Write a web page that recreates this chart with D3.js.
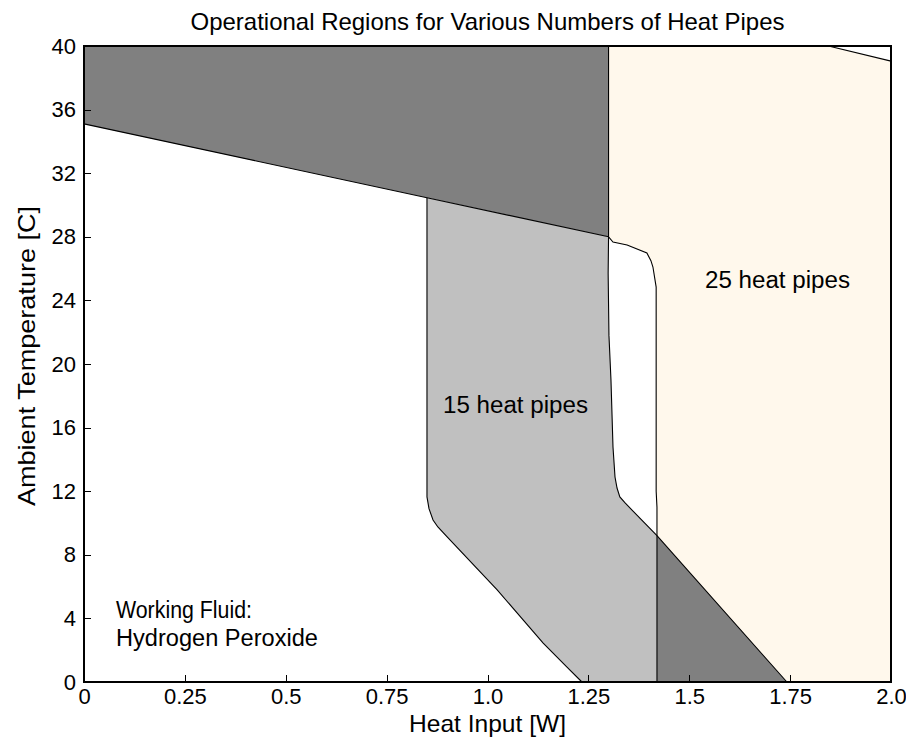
<!DOCTYPE html>
<html>
<head>
<meta charset="utf-8">
<script src="https://cdn.jsdelivr.net/npm/d3@7"></script>
<style>
  html, body { margin: 0; padding: 0; background: #fff; }
  svg { display: block; }
  text { font-family: "Liberation Sans", Arial, sans-serif; fill: #000; }
</style>
</head>
<body>
<svg id="chart" width="906" height="751"></svg>
<script>
// Axis ticks
const xTicks = [0, 0.25, 0.5, 0.75, 1.0, 1.25, 1.5, 1.75, 2.0];
const xTickLabels = ["0", "0.25", "0.5", "0.75", "1.0", "1.25", "1.5", "1.75", "2.0"];
const yTicks = [0, 4, 8, 12, 16, 20, 24, 28, 32, 36, 40];

// Boundaries as [heat input W, ambient temperature C]
// Upper temperature limit (shared line, drawn from Q = 0)
const upperLimit = [[0, 35.1], [0.85, 30.46], [1.3, 28.0]];
// 15 heat pipes: minimum heat input boundary
const minQ15 = [[0.85, 30.46], [0.85, 11.64], [0.855, 10.9], [0.865, 10.19], [0.877, 9.75],
                [0.9, 9.12], [1.024, 5.79], [1.138, 2.45], [1.197, 0.94], [1.234, 0]];
// 15 heat pipes: maximum heat input boundary
const maxQ15 = [[1.3, 28.0], [1.299, 25.7], [1.301, 21.8], [1.306, 19.0], [1.311, 14.78],
                [1.316, 12.89], [1.321, 12.2], [1.328, 11.64], [1.341, 11.26], [1.42, 9.2], [1.742, 0]];
// 25 heat pipes: minimum heat input boundary
const minQ25 = [[1.3, 40], [1.3, 28.0], [1.311, 27.67], [1.346, 27.48], [1.395, 26.98],
                [1.405, 26.5], [1.41, 26.1], [1.418, 24.84], [1.418, 12.0], [1.42, 11.0], [1.42, 0]];
// 25 heat pipes: upper temperature limit at high heat input
const upperLimit25 = [[1.845, 40], [2.0, 39.05]];

const svg = d3.select("#chart");
const margin = { left: 84, right: 15, top: 46, bottom: 69 };
const W = 906, H = 751;
const x = d3.scaleLinear().domain([0, 2]).range([margin.left, W - margin.right]);
const y = d3.scaleLinear().domain([0, 40]).range([H - margin.bottom, margin.top]);

const line = d3.line().x(d => x(d[0])).y(d => y(d[1]));
const poly = pts => line(pts) + "Z";

// Region polygons assembled from the boundary arrays
const xMin = x.domain()[0], xMax = x.domain()[1];
const yMin = y.domain()[0], yMax = y.domain()[1];

const region25 = minQ25.concat([[xMax, yMin]], upperLimit25.slice().reverse());
const regionHot = [[xMin, yMax], minQ25[0], minQ25[1], upperLimit[0]];
const region15 = upperLimit.filter(p => p[0] >= minQ15[0][0])
  .concat(maxQ15.slice(1), minQ15.slice().reverse());
const iCross = maxQ15.findIndex(p => p[0] >= minQ25[minQ25.length - 1][0]);
const overlap = maxQ15.slice(iCross).concat([[minQ25[minQ25.length - 1][0], yMin]]);

const plot = svg.append("g");
plot.append("path").attr("d", poly(region25)).attr("fill", "#fff8ec");
plot.append("path").attr("d", poly(regionHot)).attr("fill", "#808080");
plot.append("path").attr("d", poly(region15)).attr("fill", "#c0c0c0");
plot.append("path").attr("d", poly(overlap)).attr("fill", "#808080");

// Boundary lines
[upperLimit, minQ15, maxQ15, minQ25, upperLimit25].forEach(b => {
  plot.append("path").attr("d", line(b)).attr("fill", "none")
    .attr("stroke", "#000").attr("stroke-width", 1.1);
});

// Box
svg.append("rect")
  .attr("x", x(0)).attr("y", y(40))
  .attr("width", x(2) - x(0)).attr("height", y(0) - y(40))
  .attr("fill", "none").attr("stroke", "#000").attr("stroke-width", 1.2)
  .attr("shape-rendering", "crispEdges");

// Axes with inward ticks
const xAxis = d3.axisBottom(x).tickValues(xTicks)
  .tickFormat((d, i) => xTickLabels[i]).tickSizeInner(-7).tickSizeOuter(0).tickPadding(6);
const gx = svg.append("g").attr("transform", `translate(0,${y(0)})`).call(xAxis);
const yAxis = d3.axisLeft(y).tickValues(yTicks).tickFormat(d3.format("d"))
  .tickSizeInner(-7).tickSizeOuter(0).tickPadding(15);
const gy = svg.append("g").attr("transform", `translate(${x(0)},0)`).call(yAxis);
[gx, gy].forEach(g => {
  g.select(".domain").attr("stroke", "#000").attr("stroke-width", 1.2).attr("shape-rendering", "crispEdges");
  g.selectAll(".tick line").attr("stroke", "#000").attr("shape-rendering", "crispEdges");
  g.selectAll(".tick text").attr("font-family", "Liberation Sans, Arial, sans-serif")
    .attr("font-size", 22).attr("fill", "#000");
});
gy.selectAll(".tick text").attr("dx", 7);

// Titles and labels
svg.append("text").attr("x", (x(0) + x(2)) / 2).attr("y", 30)
  .attr("text-anchor", "middle").attr("font-size", 24)
  .attr("textLength", 594).attr("lengthAdjust", "spacingAndGlyphs")
  .text("Operational Regions for Various Numbers of Heat Pipes");
svg.append("text").attr("x", (x(0) + x(2)) / 2).attr("y", 732)
  .attr("text-anchor", "middle").attr("font-size", 24)
  .attr("textLength", 157).attr("lengthAdjust", "spacingAndGlyphs")
  .text("Heat Input [W]");
svg.append("text").attr("transform", `translate(35,${(y(0) + y(40)) / 2 - 8}) rotate(-90)`)
  .attr("text-anchor", "middle").attr("font-size", 24)
  .attr("textLength", 300).attr("lengthAdjust", "spacingAndGlyphs")
  .text("Ambient Temperature [C]");

// Region annotations
svg.append("text").attr("x", 705).attr("y", 288).attr("font-size", 23)
  .attr("textLength", 145).attr("lengthAdjust", "spacingAndGlyphs").text("25 heat pipes");
svg.append("text").attr("x", 443).attr("y", 413).attr("font-size", 23)
  .attr("textLength", 145).attr("lengthAdjust", "spacingAndGlyphs").text("15 heat pipes");
svg.append("text").attr("x", 116).attr("y", 618).attr("font-size", 23)
  .attr("textLength", 136).attr("lengthAdjust", "spacingAndGlyphs").text("Working Fluid:");
svg.append("text").attr("x", 116).attr("y", 646).attr("font-size", 23)
  .attr("textLength", 202).attr("lengthAdjust", "spacingAndGlyphs").text("Hydrogen Peroxide");
</script>
</body>
</html>
